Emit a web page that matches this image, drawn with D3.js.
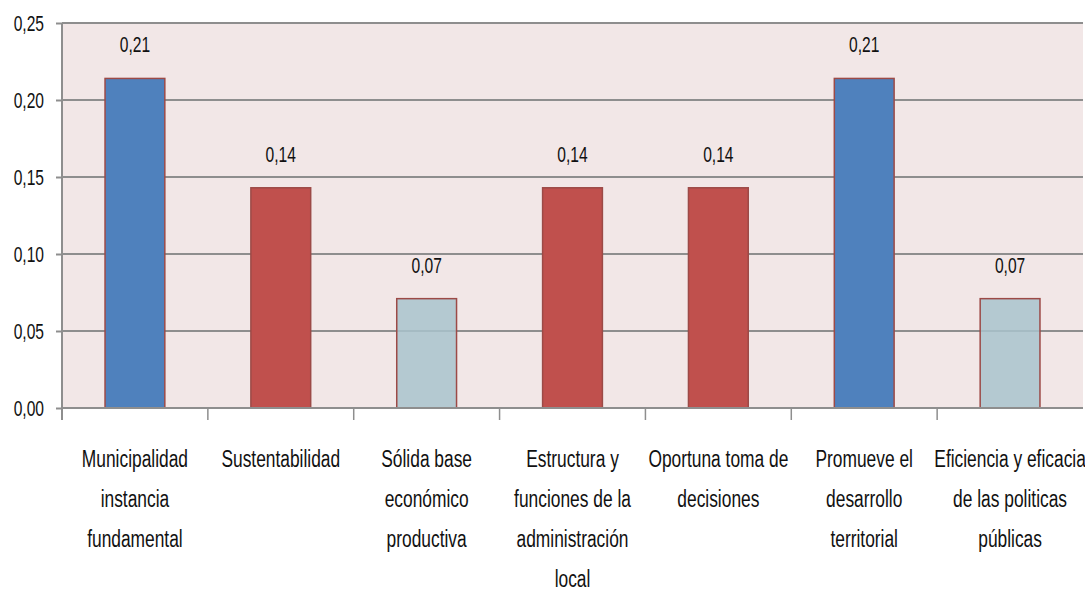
<!DOCTYPE html>
<html>
<head>
<meta charset="utf-8">
<script src="https://cdn.jsdelivr.net/npm/d3@7"></script>
<style>
  body { margin: 0; background: #fff; }
  text { font-family: "Liberation Sans", Arial, sans-serif; fill: #111; }
</style>
</head>
<body>
<div id="draw"></div>
<script>
// chart data
const categories = [
    'Municipalidad\ninstancia\nfundamental',
    'Sustentabilidad',
    'Sólida base\neconómico\nproductiva',
    'Estructura y\nfunciones  de la\nadministración\nlocal',
    'Oportuna  toma de\ndecisiones',
    'Promueve el\ndesarrollo\nterritorial',
    'Eficiencia y eficacia\nde las politicas\npúblicas'
];
const values = [0.214, 0.143, 0.071, 0.143, 0.143, 0.214, 0.071];
const valueLabels = ['0,21', '0,14', '0,07', '0,14', '0,14', '0,21', '0,07'];
const barGroup = ['blue', 'red', 'light', 'red', 'red', 'blue', 'light'];
const yTicks = [0, 0.05, 0.10, 0.15, 0.20, 0.25];

let width = 1085,
    height = 590,
    margin = { top: 23, left: 62, bottom: 182, right: 2 };

let colors = { blue: '#4f81bd', red: '#c0504d', light: '#a9c3cd' };
let gridColor = '#8e8e8e';
// the original font is a condensed one, so squeeze the text sideways
let numScale = 'scale(0.8,1.15)',
    catScale = 'scale(0.79,1.1)';

let svg = d3.select('#draw')
    .append('svg')
    .attr('width', width)
    .attr('height', height);

let xScale = d3.scaleBand().domain(categories)
    .range([margin.left, width - margin.right])
    .paddingInner(0.59).paddingOuter(0.295);
let yScale = d3.scaleLinear().domain([0, 0.25]).range([height - margin.bottom, margin.top]);

// plot background
svg.append('rect')
    .attr('x', margin.left)
    .attr('y', margin.top)
    .attr('width', width - margin.left - margin.right)
    .attr('height', yScale(0) - margin.top)
    .attr('fill', '#f2e7e7');

// grid
svg.append('g')
    .selectAll('line')
    .data(yTicks.slice(1))
    .enter()
    .append('line')
    .attr('x1', margin.left).attr('x2', width - margin.right)
    .attr('y1', d => yScale(d)).attr('y2', d => yScale(d))
    .attr('stroke', gridColor)
    .attr('stroke-width', 2);

// bars
svg.append('g')
    .selectAll('rect')
    .data(values)
    .enter()
    .append('rect')
    .attr('x', (d, i) => xScale(categories[i]))
    .attr('y', d => yScale(d))
    .attr('width', xScale.bandwidth())
    .attr('height', d => yScale(0) - yScale(d))
    .attr('fill', (d, i) => colors[barGroup[i]])
    .attr('fill-opacity', (d, i) => barGroup[i] == 'light' ? 0.85 : 1)
    .attr('stroke', '#9c4a47')
    .attr('stroke-width', 1.5);

// value labels
svg.append('g')
    .selectAll('text')
    .data(values)
    .enter()
    .append('text')
    .attr('transform', (d, i) => 'translate(' + (xScale(categories[i]) + xScale.bandwidth() / 2) + ',' + (yScale(d) - 26) + ') ' + numScale)
    .attr('text-anchor', 'middle')
    .style('font-size', '19.5px')
    .text((d, i) => valueLabels[i]);

// y axis
let yAxis = svg.append('g')
    .attr('transform', 'translate(' + margin.left + ',0)')
    .call(d3.axisLeft(yScale).tickValues(yTicks).tickSize(6).tickFormat(''));
yAxis.select('.domain').attr('stroke', gridColor).attr('stroke-width', 2)
    .attr('d', 'M0,' + margin.top + 'V' + (yScale(0) + 12));
yAxis.selectAll('.tick line').attr('stroke', gridColor).attr('stroke-width', 2);

svg.append('g')
    .selectAll('text')
    .data(yTicks)
    .enter()
    .append('text')
    .attr('transform', d => 'translate(' + (margin.left - 18) + ',' + (yScale(d) + 8) + ') ' + numScale)
    .attr('text-anchor', 'end')
    .style('font-size', '19.5px')
    .text(d => d3.format('.2f')(d).replace('.', ','));

// x axis
svg.append('line')
    .attr('x1', margin.left).attr('x2', width - margin.right)
    .attr('y1', yScale(0)).attr('y2', yScale(0))
    .attr('stroke', gridColor).attr('stroke-width', 2);
svg.append('g')
    .selectAll('line')
    .data(categories)
    .enter()
    .append('line')
    .attr('x1', d => xScale(d) - xScale.step() * 0.295)
    .attr('x2', d => xScale(d) - xScale.step() * 0.295)
    .attr('y1', yScale(0)).attr('y2', yScale(0) + 12)
    .attr('stroke', gridColor).attr('stroke-width', 1.5);

// category labels
let catLabels = svg.append('g')
    .selectAll('text')
    .data(categories)
    .enter()
    .append('text')
    .attr('transform', d => 'translate(' + (xScale(d) + xScale.bandwidth() / 2) + ',467) ' + catScale)
    .attr('text-anchor', 'middle')
    .style('font-size', '22px');
catLabels.selectAll('tspan')
    .data(d => d.split('\n'))
    .enter()
    .append('tspan')
    .attr('x', 0)
    .attr('y', (d, i) => i * 40 / 1.1)
    .text(d => d);
</script>
</body>
</html>
